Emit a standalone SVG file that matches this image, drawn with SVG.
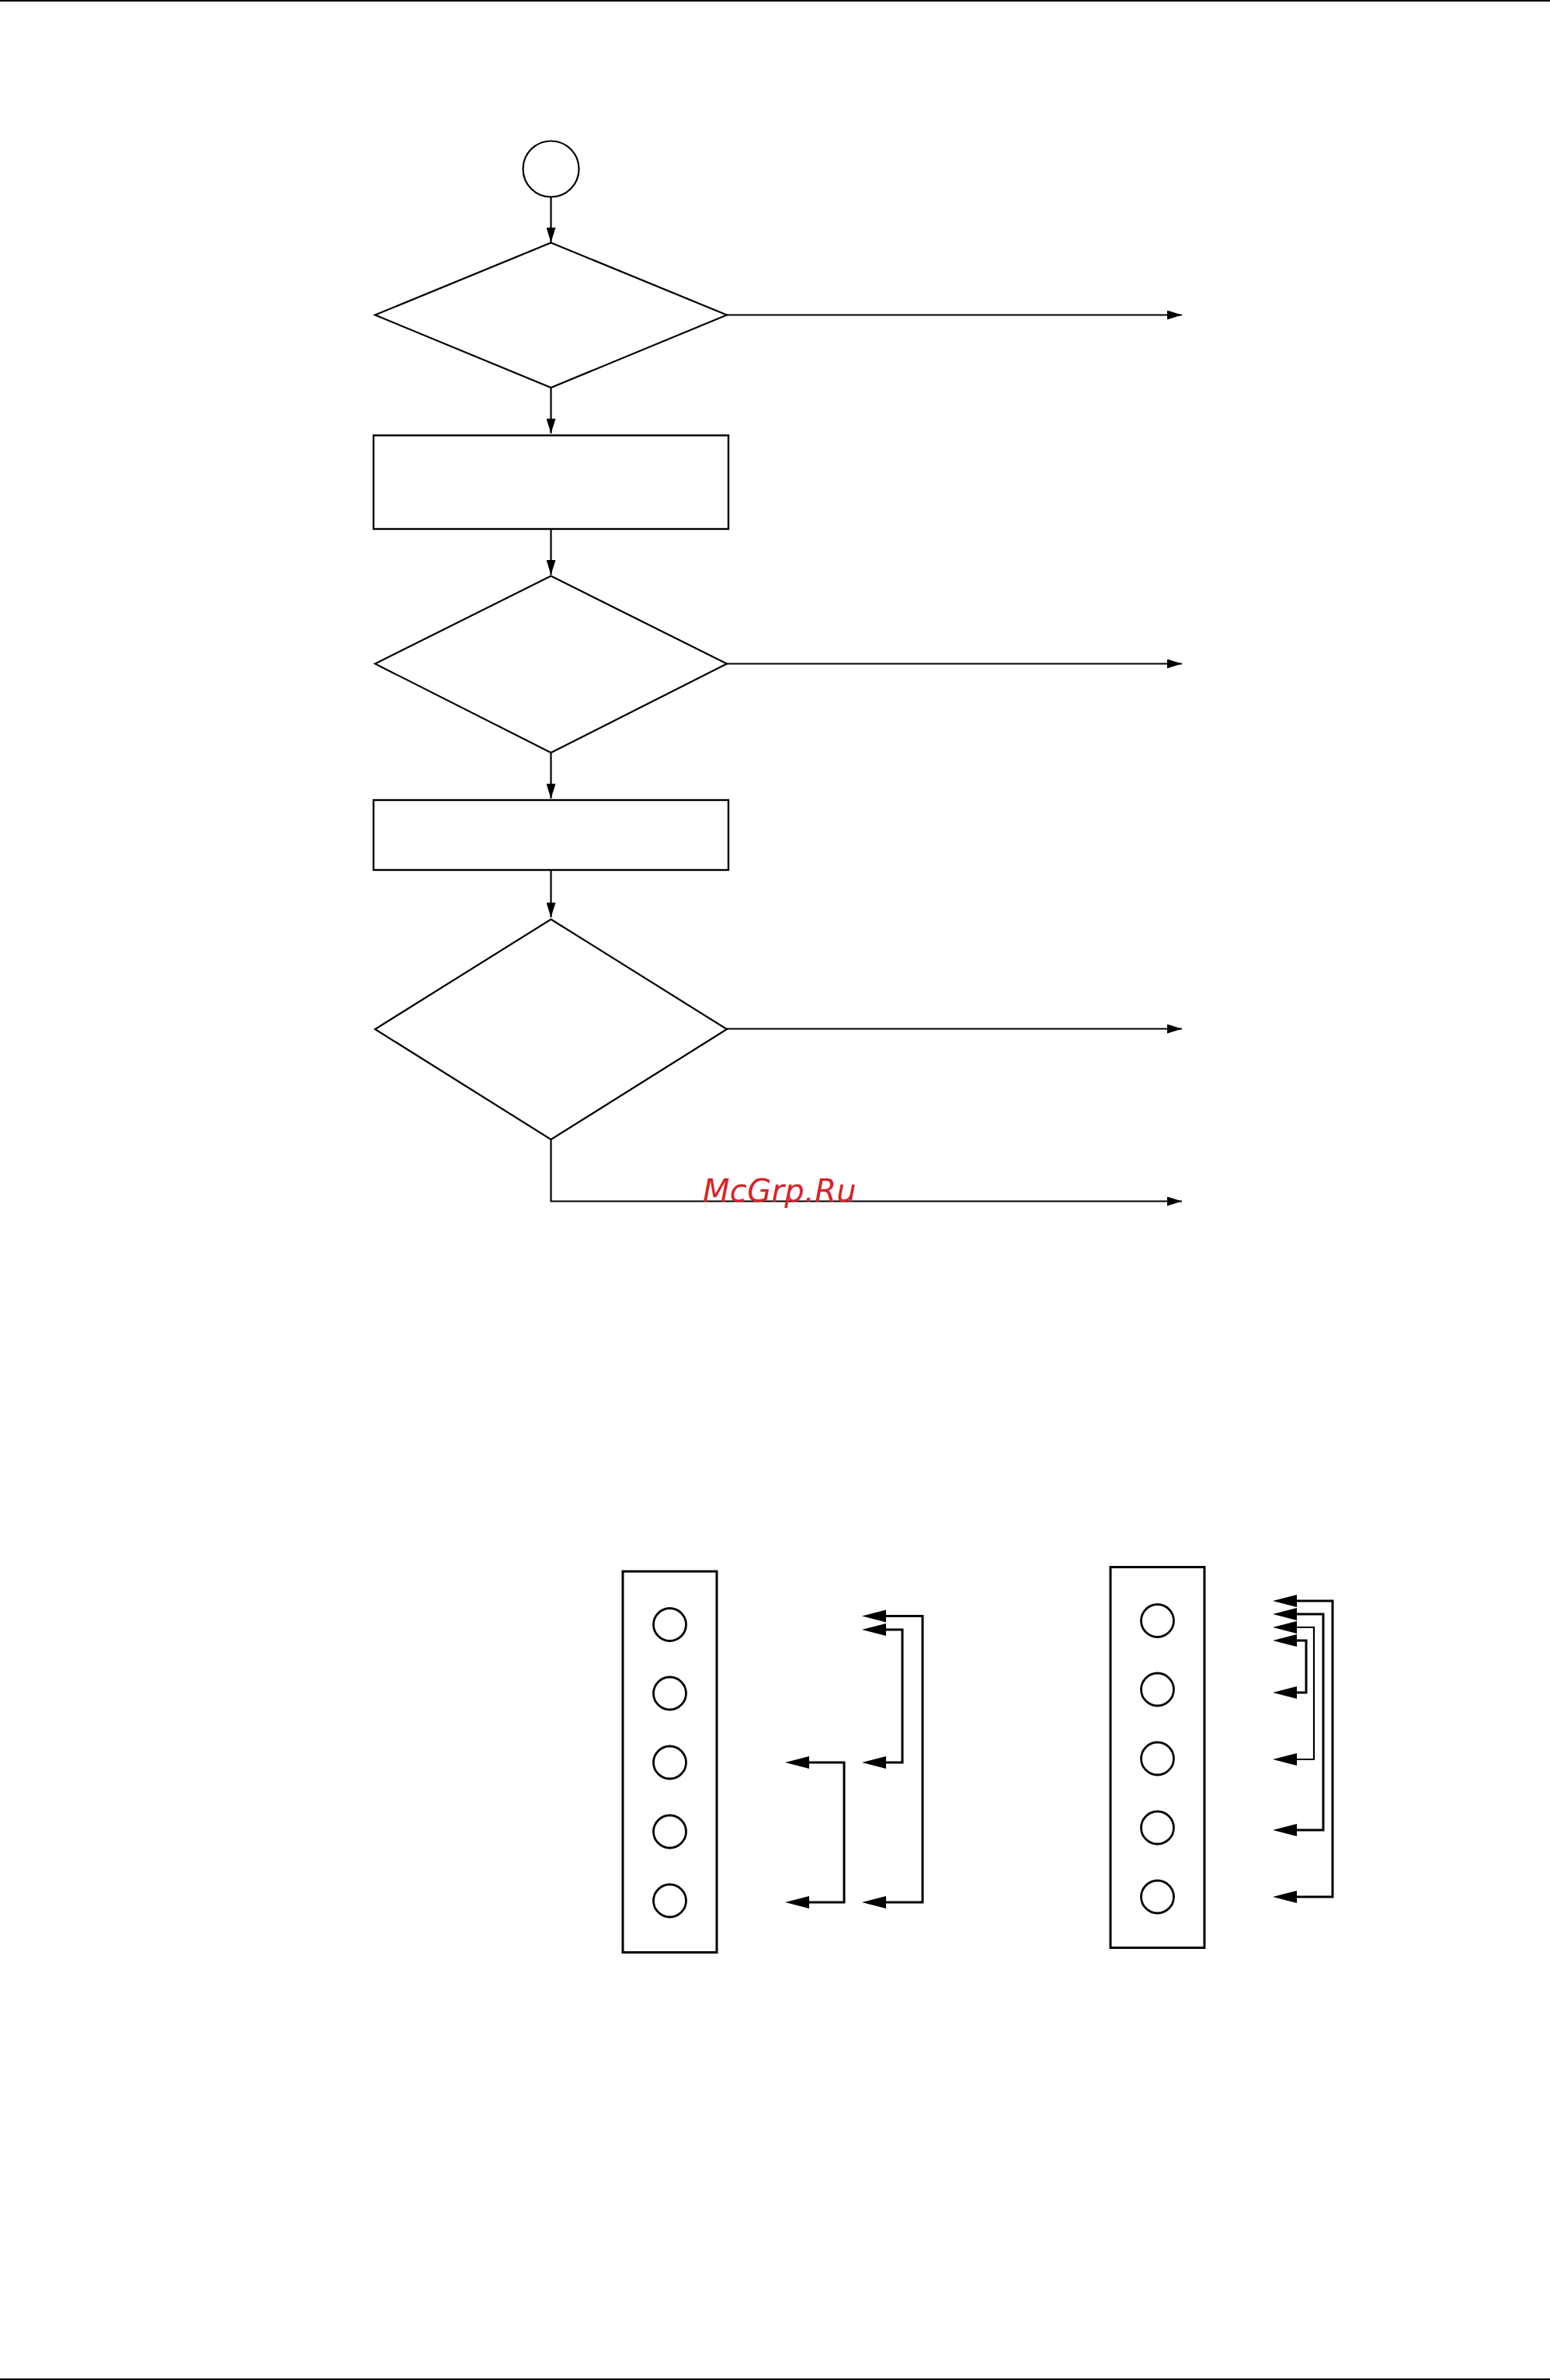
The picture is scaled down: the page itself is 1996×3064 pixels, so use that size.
<svg xmlns="http://www.w3.org/2000/svg" width="1996" height="3064" viewBox="0 0 1996 3064">
<style>
.s{fill:#fff;stroke:#000;stroke-width:2.2}
.k{fill:#fff;stroke:#000;stroke-width:2.8}
.t{fill:none;stroke:#000;stroke-width:2.4}
.r{fill:none;stroke:#000;stroke-width:3}
.c{fill:none;stroke:#000;stroke-width:2.2}
.b{fill:none;stroke:#000;stroke-width:3}
.w{font-family:"DejaVu Sans",sans-serif;font-style:italic;font-size:40px;letter-spacing:.35px;fill:#d8232a}
</style>
<defs>
<marker id="sm" markerUnits="userSpaceOnUse" markerWidth="19" markerHeight="12" refX="19" refY="6" orient="auto"><path d="M0 0L19 6L0 12Z"/></marker>
</defs>
<rect width="1996" height="3064" fill="#fff"/>
<g id="page-lines"><rect x="0" y="0" width="1996" height="2"/><rect x="0" y="3062" width="1996" height="2"/></g>
<g id="connectors">
<path class="c" marker-end="url(#sm)" d="M709.500 254V312"/>
<path class="c" marker-end="url(#sm)" d="M709.500 499V558"/>
<path class="c" marker-end="url(#sm)" d="M709.500 681V740"/>
<path class="c" marker-end="url(#sm)" d="M709.500 969V1028"/>
<path class="c" marker-end="url(#sm)" d="M709.500 1120V1181"/>
<path class="c" marker-end="url(#sm)" d="M935 405.500H1522"/>
<path class="c" marker-end="url(#sm)" d="M935 854.500H1522"/>
<path class="c" marker-end="url(#sm)" d="M935 1324.500H1522"/>
<path class="c" marker-end="url(#sm)" d="M709.500 1466V1546.500H1522"/>
<g id="left-set">
<path class="b" d="M1041 2449H1087V2269H1041"/>
<path class="b" d="M1141 2269H1162V2098H1141"/>
<path class="b" d="M1141 2449H1188V2080.500H1141"/>
<path d="M1011 2269L1042 2261V2277Z"/><path d="M1011 2449L1042 2441V2457Z"/>
<path d="M1110 2080.500L1141 2072.500V2088.500Z"/><path d="M1110 2098L1141 2090V2106Z"/>
<path d="M1110 2269L1141 2261V2277Z"/><path d="M1110 2449L1141 2441V2457Z"/>
</g>
<g id="right-set">
<path class="b" d="M1669 2442H1716V2061H1669"/>
<path class="b" d="M1669 2356H1704V2078H1669"/>
<path class="c" d="M1669 2265H1692V2095H1669"/>
<path class="b" d="M1669 2179H1682V2112H1669"/>
<path d="M1639 2061L1670 2053V2069Z"/><path d="M1639 2078L1670 2070V2086Z"/>
<path d="M1639 2095L1670 2087V2103Z"/><path d="M1639 2112L1670 2104V2120Z"/>
<path d="M1639 2179L1670 2171V2187Z"/><path d="M1639 2265L1670 2257V2273Z"/>
<path d="M1639 2356L1670 2348V2364Z"/><path d="M1639 2442L1670 2434V2450Z"/>
</g>
</g>
<g id="start"><circle class="s" cx="709.500" cy="217.500" r="36"/></g>
<g id="decision-1"><path class="s" d="M709.500 312.500L936 405.500L709.500 499L483 405.500Z"/></g>
<g id="process-1"><rect class="t" x="481" y="560.500" width="457" height="120.500"/></g>
<g id="decision-2"><path class="s" d="M709.500 741.500L936 854.500L709.500 969L483 854.500Z"/></g>
<g id="process-2"><rect class="t" x="481" y="1030" width="457" height="90"/></g>
<g id="decision-3"><path class="s" d="M709.500 1183.500L936 1325L709.500 1467L483 1325Z"/></g>
<g id="connector-block-left">
<rect class="r" x="802" y="2023" width="121" height="490.500"/>
<circle class="k" cx="862.500" cy="2091.500" r="21"/><circle class="k" cx="862.500" cy="2180" r="21"/><circle class="k" cx="862.500" cy="2269" r="21"/><circle class="k" cx="862.500" cy="2358" r="21"/><circle class="k" cx="862.500" cy="2447" r="21"/>
</g>
<g id="connector-block-right">
<rect class="r" x="1430" y="2017.500" width="121" height="490"/>
<circle class="k" cx="1490.500" cy="2086.500" r="21"/><circle class="k" cx="1490.500" cy="2175" r="21"/><circle class="k" cx="1490.500" cy="2264" r="21"/><circle class="k" cx="1490.500" cy="2353" r="21"/><circle class="k" cx="1490.500" cy="2442" r="21"/>
</g>
<text class="w" x="905" y="1547">McGrp.Ru</text>
</svg>
